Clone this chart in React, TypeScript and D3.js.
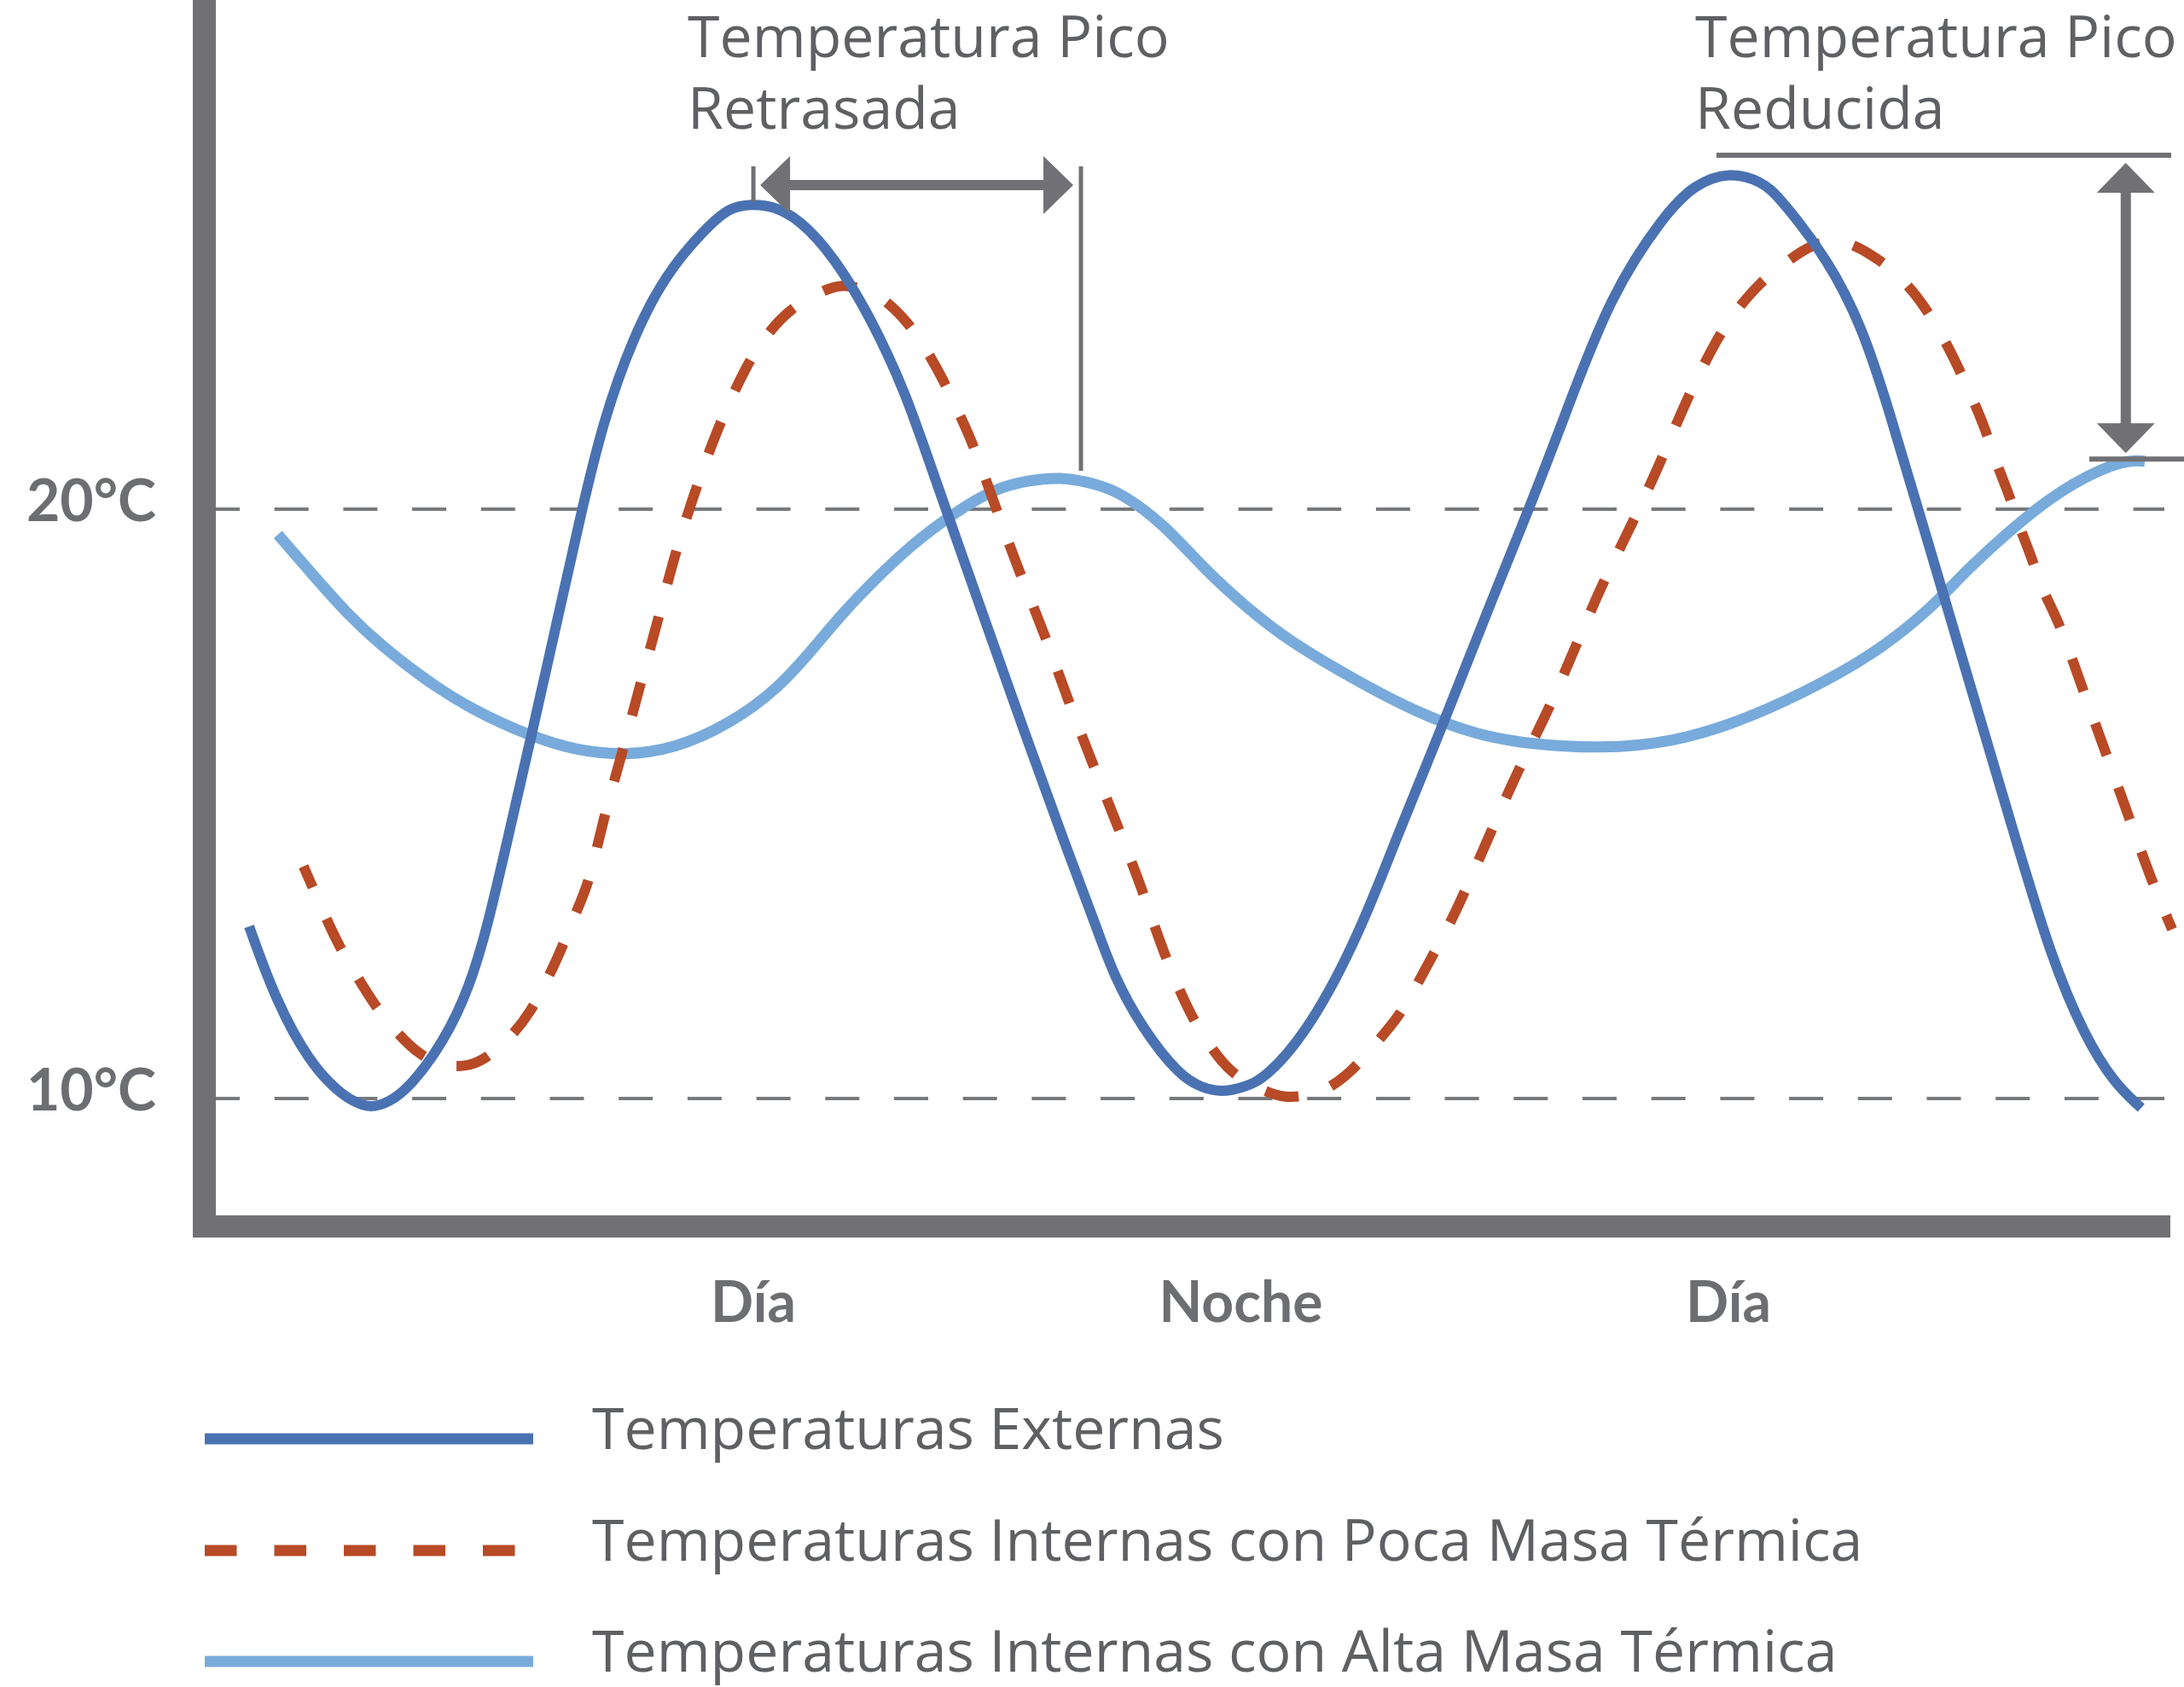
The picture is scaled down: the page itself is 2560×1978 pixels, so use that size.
import React, { useEffect, useRef } from 'react';
import * as d3 from 'd3';

// [hora, °C]
const externas: [number, number][] = [
  [-0.41, 12.92], [0.26, 11.64], [1.08, 10.61], [1.8, 10.1], [2.22, 9.93], [2.57, 9.84],
  [3.03, 9.93], [3.56, 10.2], [4.38, 10.96], [5.01, 11.87], [5.47, 12.95], [5.93, 14.33],
  [6.54, 16.16], [7.17, 18.1], [7.78, 19.99], [8.3, 21.48], [9.02, 22.89], [9.84, 23.99],
  [10.78, 24.73], [11.39, 25.12], [11.96, 25.18], [12.52, 25.14], [13.15, 24.91], [13.97, 24.3],
  [14.88, 23.27], [15.76, 21.95], [16.26, 20.94], [17.61, 18.29], [18.66, 16.24], [19.71, 14.24],
  [20.44, 12.92], [20.86, 12.1], [21.57, 11.19], [22.5, 10.38], [23.02, 10.19], [23.53, 10.1],
  [24.05, 10.19], [24.58, 10.32], [25.71, 11.19], [26.95, 12.84], [27.87, 14.5], [29.01, 16.4],
  [30.04, 18.23], [31.15, 20.1], [31.97, 21.58], [33.1, 23.65], [34.45, 25.02], [35.16, 25.51],
  [36.04, 25.73], [36.82, 25.56], [37.24, 25.31], [38.48, 24.21], [39.3, 23.07], [39.91, 21.78],
  [40.91, 19.44], [41.96, 16.99], [43.01, 14.54], [43.94, 12.39], [44.76, 11.07], [45.49, 10.26],
  [46.16, 9.84],
];

const pocaMasa: [number, number][] = [
  [0.93, 13.94], [1.44, 13.13], [1.8, 12.59], [2.22, 12.1], [2.68, 11.58], [3.2, 11.13],
  [3.81, 10.72], [4.38, 10.55], [4.9, 10.54], [5.36, 10.64], [6.04, 11.04], [6.54, 11.49],
  [6.9, 11.98], [7.28, 12.53], [7.57, 13.07], [7.95, 13.62], [8.3, 14.73], [8.77, 15.85],
  [9.19, 16.96], [9.65, 18.1], [10.05, 19.2], [10.57, 20.32], [11.14, 21.42], [11.85, 22.47],
  [12.31, 22.95], [12.88, 23.39], [13.62, 23.68], [14.14, 23.82], [14.67, 23.75], [15.19, 23.59],
  [15.8, 23.18], [16.26, 22.71], [16.68, 22.19], [17.04, 21.66], [17.4, 21.13], [17.96, 20.04],
  [18.53, 18.96], [19.16, 17.9], [19.73, 16.79], [20.34, 15.7], [20.97, 14.62], [21.57, 13.56],
  [22.1, 12.45], [22.77, 11.39], [23.23, 10.9], [23.74, 10.43], [24.51, 10.14], [25.06, 10.01],
  [25.59, 10.04], [26.11, 10.14], [26.74, 10.46], [27.35, 10.96], [27.87, 11.37], [28.29, 11.87],
  [28.69, 12.39], [29.11, 12.92], [29.47, 13.44], [30.14, 14.5], [30.81, 15.56], [31.57, 16.58],
  [32.22, 17.64], [32.89, 18.73], [33.63, 19.75], [34.34, 20.81], [34.97, 21.87], [35.73, 22.92],
  [36.21, 23.39], [36.78, 23.85], [37.39, 24.18], [38.06, 24.5], [38.6, 24.56], [38.98, 24.53],
  [39.72, 24.24], [40.37, 23.85], [40.85, 23.42], [41.31, 22.89], [41.67, 22.39], [42.03, 21.84],
  [42.34, 21.33], [42.59, 20.78], [42.91, 20.25], [43.16, 19.7], [43.48, 19.15], [43.73, 18.61],
  [44.15, 18.08], [44.71, 16.96], [45.28, 15.88], [45.85, 14.79], [46.41, 13.7], [46.92, 12.87],
];

const altaMasa: [number, number][] = [
  [0.3, 19.57], [1.14, 18.9], [2.01, 18.22], [2.82, 17.7], [3.87, 17.13], [5.11, 16.58],
  [6.54, 16.14], [7.67, 15.9], [8.81, 15.82], [10.05, 15.93], [11.39, 16.34], [12.63, 16.96],
  [13.55, 17.7], [14.18, 18.22], [14.88, 18.73], [15.91, 19.41], [16.93, 19.93], [17.96, 20.36],
  [18.8, 20.49], [19.56, 20.55], [20.44, 20.43], [21.07, 20.27], [22.1, 19.75], [23.13, 18.96],
  [24.16, 18.32], [25.19, 17.76], [26.74, 17.13], [28.29, 16.56], [29.83, 16.16], [31.04, 16.02],
  [32.89, 15.93], [34.66, 16.05], [36.21, 16.38], [37.76, 16.85], [39.59, 17.53], [41.06, 18.36],
  [41.77, 18.91], [43.24, 19.84], [44.52, 20.48], [45.78, 20.85], [46.25, 20.81],
];

const yTicks = [10, 20];
const yTickLabels = ['10°C', '20°C'];
const xCategoryHours = [12, 24, 36];
const xCategories = ['Día', 'Noche', 'Día'];
const legendLabels = [
  'Temperaturas Externas',
  'Temperaturas Internas con Poca Masa Térmica',
  'Temperaturas Internas con Alta Masa Térmica',
];
const anotacionRetraso = ['Temperatura Pico', 'Retrasada'];
const anotacionReducida = ['Temperatura Pico', 'Reducida'];

const AZUL = '#4a72b2';
const NARANJA = '#b84a26';
const CELESTE = '#78abdb';
const GRIS = '#717175';
const TEXTO = '#5f6064';

const Grafico = () => {
  const svgRef = useRef<SVGSVGElement>(null);

  useEffect(() => {
    document.body.style.margin = '0';
    const width = 2560;
    const height = 1978;
    const plotLeft = 253;
    const plotRight = 2544;
    const plotBottom = 1425;

    const svg = d3.select(svgRef.current);
    svg.selectAll('*').remove();
    svg.attr('width', width).attr('height', height).attr('viewBox', `0 0 ${width} ${height}`);

    const x = d3.scaleLinear().domain([12, 36]).range([883, 2026]);
    const y = d3.scaleLinear().domain([10, 20]).range([1288, 597]);

    // líneas de referencia
    svg.append('g')
      .selectAll('line')
      .data(yTicks)
      .join('line')
      .attr('x1', plotLeft)
      .attr('x2', 2537)
      .attr('y1', d => y(d))
      .attr('y2', d => y(d))
      .attr('stroke', '#78797c')
      .attr('stroke-width', 4)
      .attr('stroke-dasharray', '40 40.7')
      .attr('stroke-dashoffset', 12);

    svg.append('g')
      .selectAll('text')
      .data(yTicks)
      .join('text')
      .attr('x', 183)
      .attr('y', d => y(d) + 14)
      .attr('text-anchor', 'end')
      .style('font-family', 'Lato, sans-serif')
      .style('font-weight', 700)
      .style('font-size', '68px')
      .style('fill', '#6d6e72')
      .text((d, i) => yTickLabels[i]);

    const line = d3.line<[number, number]>()
      .x(d => x(d[0]))
      .y(d => y(d[1]))
      .curve(d3.curveBasis);

    svg.append('path')
      .datum(altaMasa)
      .attr('d', line)
      .attr('fill', 'none')
      .attr('stroke', CELESTE)
      .attr('stroke-width', 13);

    svg.append('path')
      .datum(pocaMasa)
      .attr('d', line)
      .attr('fill', 'none')
      .attr('stroke', NARANJA)
      .attr('stroke-width', 12)
      .attr('stroke-dasharray', '40 40')
      .attr('stroke-dashoffset', 13);

    svg.append('path')
      .datum(externas)
      .attr('d', line)
      .attr('fill', 'none')
      .attr('stroke', AZUL)
      .attr('stroke-width', 12);

    // ejes
    svg.append('rect').attr('x', 226).attr('y', -5).attr('width', 27).attr('height', plotBottom + 30).attr('fill', GRIS);
    svg.append('rect').attr('x', 226).attr('y', plotBottom).attr('width', plotRight - 226).attr('height', 26).attr('fill', GRIS);

    svg.append('g')
      .selectAll('text')
      .data(xCategories)
      .join('text')
      .attr('x', (d, i) => x(xCategoryHours[i]))
      .attr('y', 1550)
      .attr('text-anchor', 'middle')
      .style('font-family', 'Lato, sans-serif')
      .style('font-weight', 700)
      .style('font-size', '66px')
      .style('fill', '#6d6e72')
      .text(d => d);

    // anotación: pico retrasado
    const picoExt1 = externas.filter(d => d[0] < 24).reduce((a, b) => (b[1] > a[1] ? b : a));
    const picoAlta1 = altaMasa.filter(d => d[0] < 24).reduce((a, b) => (b[1] > a[1] ? b : a));
    const xa = x(picoExt1[0]) + 2;
    const xb = x(picoAlta1[0]) + 24;
    const arrowY = 217;
    svg.append('line').attr('x1', xa).attr('x2', xa).attr('y1', 195).attr('y2', y(picoExt1[1]) - 3)
      .attr('stroke', GRIS).attr('stroke-width', 5);
    svg.append('line').attr('x1', xb).attr('x2', xb).attr('y1', 195).attr('y2', y(picoAlta1[1]) - 7)
      .attr('stroke', GRIS).attr('stroke-width', 5);
    const tipL = xa + 8;
    const tipR = xb - 9;
    svg.append('path')
      .attr('d', `M${tipL},${arrowY} L${tipL + 35},${arrowY - 34} L${tipL + 35},${arrowY - 6} L${tipR - 35},${arrowY - 6} L${tipR - 35},${arrowY - 34} L${tipR},${arrowY} L${tipR - 35},${arrowY + 34} L${tipR - 35},${arrowY + 6} L${tipL + 35},${arrowY + 6} L${tipL + 35},${arrowY + 34} Z`)
      .attr('fill', GRIS);

    // anotación: pico reducido
    const picoExt2 = externas.filter(d => d[0] > 24).reduce((a, b) => (b[1] > a[1] ? b : a));
    const picoAlta2 = altaMasa.filter(d => d[0] > 24).reduce((a, b) => (b[1] > a[1] ? b : a));
    const yTop = y(picoExt2[1]) - 19;
    const yLow = y(picoAlta2[1]);
    const xv = x(picoAlta2[0]);
    svg.append('line').attr('x1', 2012).attr('x2', 2545).attr('y1', yTop).attr('y2', yTop)
      .attr('stroke', GRIS).attr('stroke-width', 6);
    svg.append('line').attr('x1', 2449).attr('x2', 2560).attr('y1', yLow).attr('y2', yLow)
      .attr('stroke', GRIS).attr('stroke-width', 6);
    const t = yTop + 9;
    const b = yLow - 7;
    svg.append('path')
      .attr('d', `M${xv},${t} L${xv + 34},${t + 35} L${xv + 6},${t + 35} L${xv + 6},${b - 35} L${xv + 34},${b - 35} L${xv},${b} L${xv - 34},${b - 35} L${xv - 6},${b - 35} L${xv - 6},${t + 35} L${xv - 34},${t + 35} Z`)
      .attr('fill', GRIS);

    const textoAnotacion = (lines: string[], x0: number) => {
      svg.append('g')
        .selectAll('text')
        .data(lines)
        .join('text')
        .attr('x', x0)
        .attr('y', (d, i) => 67 + i * 84)
        .style('font-family', '"Open Sans", sans-serif')
        .style('font-weight', 400)
        .style('font-size', '68px')
        .style('fill', TEXTO)
        .text(d => d);
    };
    textoAnotacion(anotacionRetraso, x(picoExt1[0]) - 75);
    textoAnotacion(anotacionReducida, 1987);

    // leyenda
    const legendStyles = [
      { color: AZUL, dash: null, y: 1687 },
      { color: NARANJA, dash: '37.5 44', y: 1818 },
      { color: CELESTE, dash: null, y: 1948 },
    ];
    const leg = svg.append('g');
    legendLabels.forEach((label, i) => {
      const s = legendStyles[i];
      leg.append('line')
        .attr('x1', 240)
        .attr('x2', s.dash ? 604 : 625)
        .attr('y1', s.y)
        .attr('y2', s.y)
        .attr('stroke', s.color)
        .attr('stroke-width', 13)
        .attr('stroke-dasharray', s.dash);
      leg.append('text')
        .attr('x', 694)
        .attr('y', s.y + 12)
        .style('font-family', '"Open Sans", sans-serif')
        .style('font-weight', 400)
        .style('font-size', '68px')
        .style('fill', TEXTO)
        .text(label);
    });
  }, []);

  return <svg ref={svgRef} style={{ display: 'block', background: '#fff' }}></svg>;
};

export default function App() {
  return <Grafico />;
}
